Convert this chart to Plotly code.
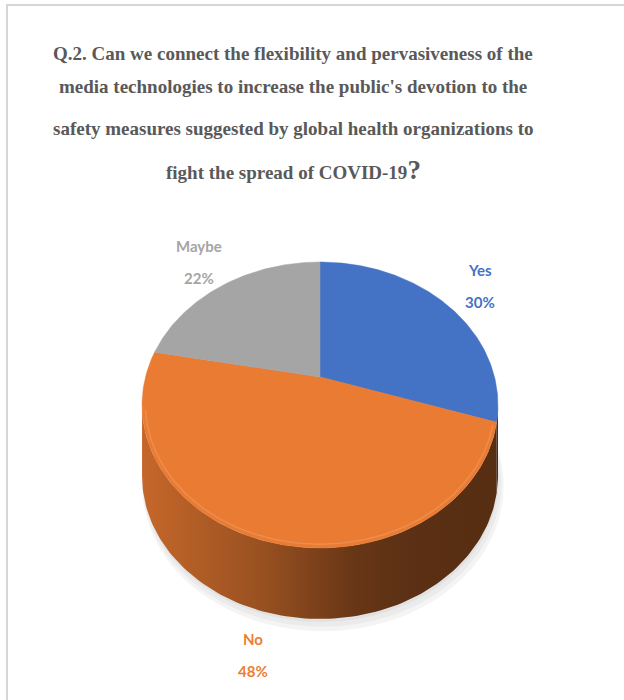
import numpy as np
import plotly.graph_objects as go

# ---------------- data ----------------
categories = ["Yes", "No", "Maybe"]
values = [30, 48, 22]
slice_colors = ["#4472c4", "#ea7b32", "#a5a5a5"]
label_colors = ["#4472c4", "#ed7d31", "#a5a5a5"]
title_lines = [
    "Q.2. Can we connect the flexibility and pervasiveness of the",
    "media technologies to increase the public's devotion to the",
    "safety measures suggested by global health organizations to",
    "fight the spread of COVID-19<span style='font-size:27px'>?</span>",
]

# ---------------- geometry / style constants ----------------
W, H = 624, 700
CX, CY = 320, 377            # pie apex in pixels
ALPHA = np.radians(52)       # tilt of the pie
CA, SA = np.cos(ALPHA), np.sin(ALPHA)
DIST = 3.146                 # camera distance (radius units)
FOC = 549                    # projection scale (px)
DEPTH = 71                   # pie thickness (px)
PHI_MIN = np.degrees(np.arccos(-CA / DIST))
PHI_MAX = 360 - PHI_MIN


def rim(phi_deg, r=1.0):
    phi = np.radians(np.asarray(phi_deg, dtype=float))
    X = r * np.sin(phi)
    Z = r * np.cos(phi)
    yc = Z * SA
    zc = DIST + Z * CA
    return CX + FOC * X / zc, CY - FOC * yc / zc


def shade(hexcol, f):
    h = hexcol.lstrip("#")
    rgb = [int(h[i:i + 2], 16) for i in (0, 2, 4)]
    return "rgb({},{},{})".format(*[int(round(v * f)) for v in rgb])


def tint(hexcol, f):
    h = hexcol.lstrip("#")
    rgb = [int(h[i:i + 2], 16) for i in (0, 2, 4)]
    return "rgb({},{},{})".format(*[int(round(v + (255 - v) * f)) for v in rgb])


fig = go.Figure()

total = sum(values)
bounds = np.concatenate([[0], np.cumsum(values) / total * 360])

# soft shadow beneath
full = np.linspace(0, 360, 181)
for rr, dx, off, col in [(1.015, 3, 9, "#f4f4f4"), (1.008, 2, 6, "#ebebeb"), (1.0, 1, 3, "#e2e2e2")]:
    sx, sy = rim(full, rr)
    fig.add_trace(go.Scatter(x=sx + dx, y=sy + DEPTH + off, mode="lines", fill="toself",
                             fillcolor=col, line=dict(width=0), hoverinfo="skip"))

xl, xr = CX - 178, CX + 178
# sides
for i, col in enumerate(slice_colors):
    a, b = bounds[i], bounds[i + 1]
    lo, hi = max(a, PHI_MIN), min(b, PHI_MAX)
    if hi <= lo:
        continue
    ph = np.linspace(lo, hi, 120)
    tx, ty = rim(ph)
    px = np.concatenate([tx, tx[::-1]])
    py = np.concatenate([ty, ty[::-1] + DEPTH])
    cs = [[0, shade(col, 0.84)], [0.33, shade(col, 0.66)], [0.6, shade(col, 0.44)],
          [0.75, shade(col, 0.39)], [1, shade(col, 0.37)]]
    fig.add_trace(go.Scatter(x=px, y=py, mode="lines", fill="toself",
                             fillgradient=dict(type="horizontal", colorscale=cs,
                                               start=xl, stop=xr),
                             line=dict(width=0), hoverinfo="skip"))

# top faces
for i, col in enumerate(slice_colors):
    a, b = bounds[i], bounds[i + 1]
    ph = np.linspace(a, b, max(int((b - a) * 1.5), 10))
    tx, ty = rim(ph)
    px = np.concatenate([[CX], tx, [CX]])
    py = np.concatenate([[CY], ty, [CY]])
    fig.add_trace(go.Scatter(x=px, y=py, mode="lines", fill="toself",
                             fillcolor=col, line=dict(width=0.5, color=col),
                             hoverinfo="skip"))

# bevel highlight along the front rim
for i, col in enumerate(slice_colors):
    a, b = bounds[i], bounds[i + 1]
    lo, hi = max(a, PHI_MIN + 8), min(b, PHI_MAX - 2)
    if hi <= lo:
        continue
    ph = np.linspace(lo, hi, 100)
    tx, ty = rim(ph, 0.982)
    fig.add_trace(go.Scatter(x=tx, y=ty, mode="lines",
                             line=dict(width=1.6, color=tint(col, 0.22)),
                             opacity=0.6, hoverinfo="skip"))

annotations = []
# data labels
for i, (cat, v) in enumerate(zip(categories, values)):
    mid = (bounds[i] + bounds[i + 1]) / 2
    front = np.cos(np.radians(mid)) < -CA / DIST
    r = 1.2 if front else 1.3
    lx, ly = rim(mid, r)
    lx, ly = float(lx), float(ly)
    if front:
        ly += DEPTH
    fnt = dict(family="Lato, Open Sans, sans-serif", size=15, color=label_colors[i],
               weight="bold")
    annotations.append(dict(x=lx, y=ly - 16, xref="x", yref="y", text=cat,
                            showarrow=False, font=fnt, xanchor="center", yanchor="middle"))
    annotations.append(dict(x=lx, y=ly + 16, xref="x", yref="y", text=f"{v}%",
                            showarrow=False, font=fnt, xanchor="center", yanchor="middle"))

# title
title_y = [53, 86, 128, 170]
for t, y in zip(title_lines, title_y):
    annotations.append(dict(x=293, y=y, xref="x", yref="y", text="<b>" + t + "</b>",
                            showarrow=False, xanchor="center", yanchor="middle",
                            font=dict(family="Liberation Serif, Times New Roman, serif",
                                      size=19, color="#595959")))

shapes = [
    dict(type="line", xref="x", yref="y", x0=6, y0=5, x1=W + 5, y1=5,
         line=dict(color="#d6d6d6", width=2)),
    dict(type="line", xref="x", yref="y", x0=7, y0=5, x1=7, y1=H + 5,
         line=dict(color="#d6d6d6", width=2)),
]

fig.update_layout(
    width=W, height=H, margin=dict(l=0, r=0, t=0, b=0),
    paper_bgcolor="white", plot_bgcolor="white", showlegend=False,
    xaxis=dict(range=[0, W], visible=False, fixedrange=True),
    yaxis=dict(range=[H, 0], visible=False, fixedrange=True),
    annotations=annotations, shapes=shapes, hovermode=False,
)

fig.write_html("out.html")
